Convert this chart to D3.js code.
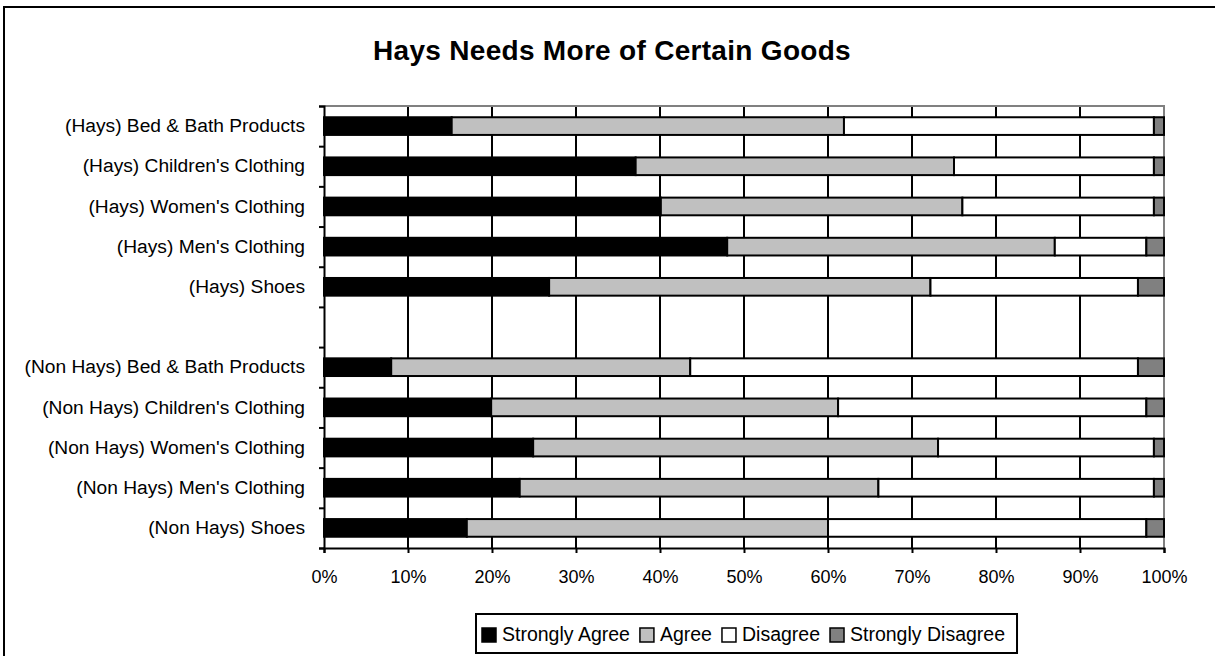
<!DOCTYPE html>
<html>
<head>
<meta charset="utf-8">
<script src="https://cdn.jsdelivr.net/npm/d3@7"></script>
<style>
  html, body { margin: 0; padding: 0; background: #fff; }
  svg { display: block; font-family: "Liberation Sans", Arial, sans-serif; }
</style>
</head>
<body>
<svg id="chart" width="1215" height="656"></svg>
<script>
// Survey rows, top to bottom; the empty entry leaves a gap between the two groups
const categories = [
  "(Hays) Bed & Bath Products",
  "(Hays) Children's Clothing",
  "(Hays) Women's Clothing",
  "(Hays) Men's Clothing",
  "(Hays) Shoes",
  "",
  "(Non Hays) Bed & Bath Products",
  "(Non Hays) Children's Clothing",
  "(Non Hays) Women's Clothing",
  "(Non Hays) Men's Clothing",
  "(Non Hays) Shoes"
];

const seriesNames = ["Strongly Agree", "Agree", "Disagree", "Strongly Disagree"];
const seriesColors = ["#000000", "#c0c0c0", "#ffffff", "#808080"];

// Percent of respondents per answer (null for the spacer row)
const stronglyAgree    = [15.2, 37.1, 40.1, 48.0, 26.8, null,  8.0, 19.9, 24.9, 23.3, 17.0];
const agree            = [46.7, 37.9, 35.9, 39.0, 45.4, null, 35.6, 41.3, 48.2, 42.7, 43.0];
const disagree         = [36.9, 23.8, 22.8, 10.9, 24.7, null, 53.3, 36.7, 25.7, 32.8, 37.9];
const stronglyDisagree = [ 1.2,  1.2,  1.2,  2.1,  3.1, null,  3.1,  2.1,  1.2,  1.2,  2.1];

const xTickValues = [0, 0.1, 0.2, 0.3, 0.4, 0.5, 0.6, 0.7, 0.8, 0.9, 1.0];

const titleText = "Hays Needs More of Certain Goods";

// ---- layout
const svg = d3.select("#chart");
const plot = { left: 324, right: 1164, top: 106, bottom: 548 };

// Outer frame
svg.append("rect")
  .attr("x", 4).attr("y", 7)
  .attr("width", 1300).attr("height", 700)
  .attr("fill", "#fff").attr("stroke", "#000").attr("stroke-width", 2);

// Title
svg.append("text")
  .attr("x", 612).attr("y", 60)
  .attr("text-anchor", "middle")
  .attr("font-size", 28).attr("font-weight", "bold")
  .attr("letter-spacing", 0.3)
  .text(titleText);

// ---- scales
const rowKeys = categories.map((c, i) => i);
const y = d3.scaleBand().domain(rowKeys).range([plot.top, plot.bottom]).padding(0);
const x = d3.scaleLinear().domain([0, 1]).range([plot.left, plot.right]);
const yEdge = d3.scaleLinear().domain([0, categories.length]).range([plot.top, plot.bottom]);

// ---- stacked data, normalised to 100%
const rows = categories.map((c, i) => ({
  key: i,
  "Strongly Agree": stronglyAgree[i],
  "Agree": agree[i],
  "Disagree": disagree[i],
  "Strongly Disagree": stronglyDisagree[i]
})).filter(r => r["Strongly Agree"] !== null);

const stack = d3.stack().keys(seriesNames).offset(d3.stackOffsetExpand);
const layers = stack(rows);

// Vertical gridlines
svg.append("g")
  .selectAll("line")
  .data(xTickValues.slice(1, -1))
  .join("line")
  .attr("x1", d => Math.round(x(d))).attr("x2", d => Math.round(x(d)))
  .attr("y1", plot.top).attr("y2", plot.bottom)
  .attr("stroke", "#000").attr("stroke-width", 2);

// Plot frame (top and right edges)
svg.append("path")
  .attr("d", `M${plot.left},${plot.top}H${plot.right}V${plot.bottom}`)
  .attr("fill", "none").attr("stroke", "#808080").attr("stroke-width", 2);

// Bars
const barH = y.bandwidth() * 0.44;
svg.append("g")
  .selectAll("g")
  .data(layers)
  .join("g")
  .attr("fill", (d, i) => seriesColors[i])
  .selectAll("rect")
  .data(d => d)
  .join("rect")
  .attr("x", d => x(d[0]))
  .attr("width", d => x(d[1]) - x(d[0]))
  .attr("y", d => y(d.data.key) + (y.bandwidth() - barH) / 2)
  .attr("height", barH)
  .attr("stroke", "#000").attr("stroke-width", 2);

// X axis
const xAxis = d3.axisBottom(x)
  .tickValues(xTickValues)
  .tickFormat(d3.format(".0%"))
  .tickSize(5)
  .tickPadding(17);

const gx = svg.append("g")
  .attr("transform", `translate(0,${plot.bottom})`)
  .call(xAxis);
gx.select(".domain").attr("stroke", "#000").attr("stroke-width", 2);
gx.selectAll(".tick line").attr("stroke", "#000").attr("stroke-width", 2);
gx.selectAll(".tick text")
  .attr("font-size", 18).attr("fill", "#000")
  .attr("font-family", "Liberation Sans, Arial, sans-serif");

// Y axis: ticks on the row boundaries
const gyTicks = svg.append("g")
  .attr("transform", `translate(${plot.left},0)`)
  .call(d3.axisLeft(yEdge).tickValues(d3.range(categories.length + 1)).tickFormat("").tickSize(5));
gyTicks.select(".domain").attr("stroke", "#000").attr("stroke-width", 2);
gyTicks.selectAll(".tick line").attr("stroke", "#000").attr("stroke-width", 2);

// Y axis: category labels centred in each row
const gy = svg.append("g")
  .attr("transform", `translate(${plot.left},0)`)
  .call(d3.axisLeft(y).tickFormat(i => categories[i]).tickSize(0).tickPadding(19));
gy.select(".domain").remove();
gy.selectAll(".tick text")
  .attr("font-size", 19.2).attr("fill", "#000")
  .attr("font-family", "Liberation Sans, Arial, sans-serif");

// Legend: items laid out left to right from their measured text widths
const legend = svg.append("g");
const legendBox = legend.append("rect")
  .attr("x", 476).attr("y", 614).attr("height", 39)
  .attr("fill", "#fff").attr("stroke", "#000").attr("stroke-width", 2);

const items = legend.selectAll("g.item")
  .data(seriesNames)
  .join("g")
  .attr("class", "item");
items.append("rect")
  .attr("y", -13)
  .attr("width", 14).attr("height", 14)
  .attr("fill", (d, i) => seriesColors[i])
  .attr("stroke", "#000").attr("stroke-width", 1.5);
items.append("text")
  .attr("x", 20).attr("y", 0)
  .attr("font-size", 19.5)
  .text(d => d);

let cursor = 482;
items.each(function () {
  const g = d3.select(this);
  g.attr("transform", `translate(${cursor},641)`);
  const w = g.select("text").node().getComputedTextLength();
  cursor += 20 + w + 10;
});
legendBox.attr("width", cursor - 476 + 2);
</script>
</body>
</html>
